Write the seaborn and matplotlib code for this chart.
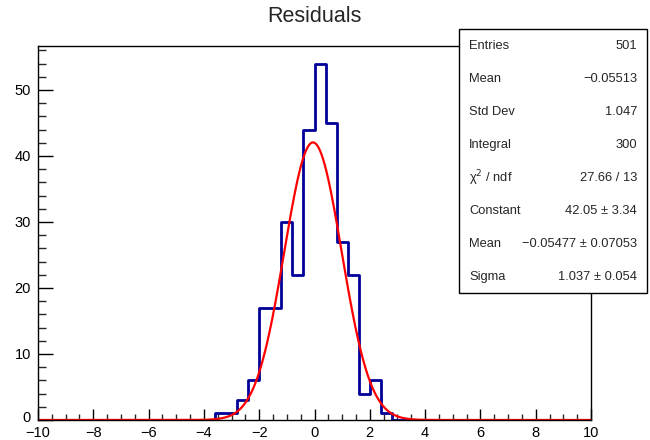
import numpy as np
import pandas as pd
import matplotlib
matplotlib.use("Agg")
import matplotlib.pyplot as plt
import matplotlib.transforms as mtransforms
import seaborn as sns
from matplotlib.ticker import MultipleLocator
from matplotlib.patches import Rectangle

# ---- data ----
bin_width = 0.4
x_range = (-10.0, 10.0)
nonzero_lo = [-3.6, -3.2, -2.8, -2.4, -2.0, -1.6, -1.2, -0.8, -0.4, 0.0, 0.4, 0.8, 1.2, 1.6, 2.0, 2.4]
nonzero_counts = [1, 1, 3, 6, 17, 17, 30, 22, 44, 54, 45, 27, 22, 4, 6, 1]

fit_constant = 42.05
fit_mean = -0.05477
fit_sigma = 1.037

stat_labels = ["Entries", "Mean", "Std Dev", "Integral", "χ$^{2}$ / ndf", "Constant", "Mean", "Sigma"]
stat_values = ["501", "−0.05513", "1.047", "300", "27.66 / 13", "42.05 ± 3.34",
               "−0.05477 ± 0.07053", "1.037 ± 0.054"]

# build full histogram table
nbins = int(round((x_range[1] - x_range[0]) / bin_width))
centers = x_range[0] + bin_width * (np.arange(nbins) + 0.5)
counts = np.zeros(nbins)
for lo, c in zip(nonzero_lo, nonzero_counts):
    idx = int(round((lo - x_range[0]) / bin_width))
    counts[idx] = c
hist_df = pd.DataFrame({"x": centers, "w": counts})

xf = np.linspace(-10, 10, 1000)
fit_df = pd.DataFrame({"x": xf,
                       "y": fit_constant * np.exp(-0.5 * ((xf - fit_mean) / fit_sigma) ** 2)})

# ---- plot ----
sns.set_style("white")
plt.rcParams["font.family"] = ["Liberation Sans", "DejaVu Sans"]

fig = plt.figure(figsize=(6.5, 4.4), dpi=100)
ax = fig.add_axes([38 / 650, 1 - 420 / 440, (591 - 38) / 650, (420 - 45.7) / 440])

sns.histplot(data=hist_df, x="x", weights="w", binwidth=bin_width, binrange=x_range,
             element="step", fill=False, color="#000099", linewidth=2, ax=ax)
sns.lineplot(data=fit_df, x="x", y="y", color="#ff0000", linewidth=1.6, ax=ax)

ax.set_xlim(-10, 10)
ax.set_ylim(0, 56.7)
ax.set_xlabel("")
ax.set_ylabel("")
ax.xaxis.set_major_locator(MultipleLocator(2))
ax.xaxis.set_minor_locator(MultipleLocator(0.5))
ax.yaxis.set_major_locator(MultipleLocator(10))
ax.yaxis.set_minor_locator(MultipleLocator(2))
ax.tick_params(axis="x", which="major", direction="in", length=8, width=1, labelsize=10.5, pad=4.5,
               bottom=True, top=False, colors="black")
ax.tick_params(axis="x", which="minor", direction="in", length=4.5, width=1, bottom=True, top=False)
ax.tick_params(axis="y", which="major", direction="in", length=11, width=1, labelsize=10.5, pad=5,
               left=True, right=False, colors="black")
ax.tick_params(axis="y", which="minor", direction="in", length=6, width=1, left=True, right=False)
for s in ax.spines.values():
    s.set_color("black")
    s.set_linewidth(1)

# nudge the y "0" label up slightly so it doesn't collide with the "-10" x label
fig.canvas.draw()
for t in ax.yaxis.get_major_ticks():
    if abs(t.get_loc()) < 1e-9:
        t.label1.set_transform(t.label1.get_transform() +
                               mtransforms.ScaledTranslation(0, 2.5 / 72, fig.dpi_scale_trans))

fig.text(314.5 / 650, 1 - 16 / 440, "Residuals", ha="center", va="center", fontsize=15.5)

# stats box
bx0, by0, bx1, by1 = 459, 29, 647, 293
fig.patches.append(Rectangle((bx0 / 650, 1 - by1 / 440), (bx1 - bx0) / 650, (by1 - by0) / 440,
                             transform=fig.transFigure, facecolor="white", edgecolor="black",
                             linewidth=1, zorder=10))
for i, (lab, val) in enumerate(zip(stat_labels, stat_values)):
    yy = 1 - (46 + 33 * i) / 440
    fig.text(469 / 650, yy, lab, ha="left", va="center", fontsize=9.3, zorder=11)
    fig.text(637 / 650, yy, val, ha="right", va="center", fontsize=9.3, zorder=11)

fig.savefig("out.png", dpi=100)
